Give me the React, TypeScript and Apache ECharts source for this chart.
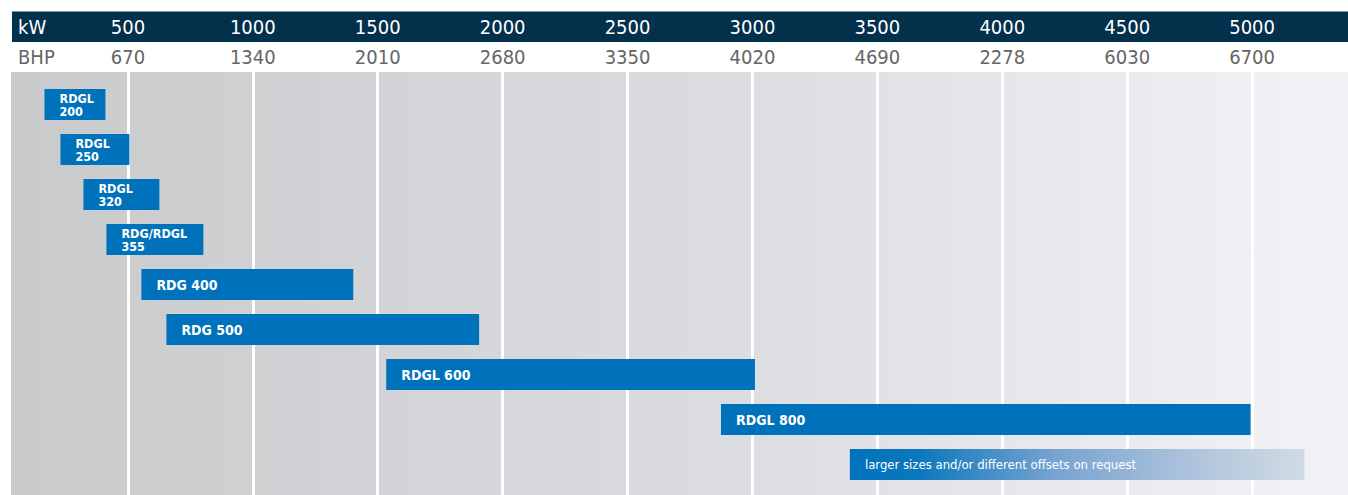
import React, { useEffect, useRef } from "react";
import * as echarts from "echarts";

const kwTicks = [500, 1000, 1500, 2000, 2500, 3000, 3500, 4000, 4500, 5000];
const bhpTicks = ["670", "1340", "2010", "2680", "3350", "4020", "4690", "2278", "6030", "6700"];

const barNames = [
  "RDGL\n200",
  "RDGL\n250",
  "RDGL\n320",
  "RDG/RDGL\n355",
  "RDG 400",
  "RDG 500",
  "RDGL 600",
  "RDGL 800",
  "larger sizes and/or different offsets on request",
];
const barStart = [166, 230, 322, 414, 554, 654, 1534, 2874, 3390];
const barEnd = [410, 506, 626, 802, 1402, 1906, 3010, 4994, 5210];

const FONT = "'DejaVu Sans Condensed', 'DejaVu Sans', sans-serif";
const BLUE = "#0071bb";
const NAVY = "#03304b";

export default function App() {
  const ref = useRef<HTMLDivElement>(null);
  useEffect(() => {
    document.body.style.margin = "0";
    const chart = echarts.init(ref.current!, null, { renderer: "svg" });
    const data = barNames.map((n, i) => [barStart[i], barEnd[i], i, n]);
    const last = barNames.length - 1;
    chart.setOption({
      animation: false,
      grid: { left: 2.5, top: 72, width: 1375, bottom: 0 },
      xAxis: [
        {
          type: "value",
          position: "top",
          min: 0,
          max: 5500,
          interval: 500,
          axisLine: { show: false },
          axisTick: { show: false },
          splitLine: { show: true, lineStyle: { color: "#ffffff", width: 3 } },
          axisLabel: {
            margin: 45,
            verticalAlign: "middle",
            color: "#ffffff",
            fontSize: 20,
            fontFamily: FONT,
            formatter: (v: number) => (kwTicks.indexOf(v) >= 0 ? String(v) : ""),
          },
        },
        {
          type: "value",
          position: "top",
          min: 0,
          max: 5500,
          interval: 500,
          axisLine: { show: false },
          axisTick: { show: false },
          splitLine: { show: false },
          axisLabel: {
            margin: 15,
            verticalAlign: "middle",
            color: "#666666",
            fontSize: 20,
            fontFamily: FONT,
            formatter: (v: number) => {
              const i = kwTicks.indexOf(v);
              return i >= 0 ? bhpTicks[i] : "";
            },
          },
        },
      ],
      yAxis: {
        type: "value",
        inverse: true,
        min: -32.5 / 45,
        max: -32.5 / 45 + 423 / 45,
        show: false,
      },
      graphic: {
        elements: [
          {
            type: "rect",
            z: -10,
            shape: { x: 11, y: 72, width: 1337, height: 423 },
            style: {
              fill: new echarts.graphic.LinearGradient(0, 0, 1, 0, [
                { offset: 0, color: "#c9cacc" },
                { offset: 0.5, color: "#d9dbde" },
                { offset: 1, color: "#f1f3f6" },
              ]),
            },
          },
          {
            type: "rect",
            z: -10,
            shape: { x: 12, y: 11, width: 1336, height: 31 },
            style: { fill: NAVY },
          },
          {
            type: "rect",
            z: -9,
            shape: { x: 12, y: 11, width: 1336, height: 1 },
            style: { fill: "#7d93a3" },
          },
          {
            type: "text",
            x: 18,
            y: 27,
            style: { text: "kW", fill: "#ffffff", font: `20px ${FONT}`, verticalAlign: "middle" },
          },
          {
            type: "text",
            x: 18,
            y: 57,
            style: { text: "BHP", fill: "#666666", font: `20px ${FONT}`, verticalAlign: "middle" },
          },
        ],
      },
      series: [
        {
          type: "custom",
          xAxisIndex: 0,
          data,
          renderItem: (params: any, api: any) => {
            const idx = api.value(2);
            const s = api.coord([api.value(0), idx]);
            const e = api.coord([api.value(1), idx]);
            const h = 31;
            const isLast = idx === last;
            const name = barNames[idx];
            const twoLine = name.indexOf("\n") >= 0;
            const fill = isLast
              ? new echarts.graphic.LinearGradient(0, 0, 1, 0, [
                  { offset: 0, color: "#0072bb" },
                  { offset: 0.15, color: "#0c77bd" },
                  { offset: 0.45, color: "#77a3d1" },
                  { offset: 0.75, color: "#adc3dc" },
                  { offset: 1, color: "#d1dbe4" },
                ])
              : BLUE;
            return {
              type: "group",
              children: [
                {
                  type: "rect",
                  shape: { x: s[0], y: s[1] - h / 2, width: e[0] - s[0], height: h },
                  style: { fill },
                },
                {
                  type: "text",
                  x: s[0] + 15,
                  y: s[1] + (twoLine ? 0.5 : 0),
                  style: {
                    text: name,
                    fill: "#ffffff",
                    font: isLast
                      ? `13px ${FONT}`
                      : twoLine
                      ? `bold 12.5px ${FONT}`
                      : `bold 14px ${FONT}`,
                    lineHeight: 13.5,
                    verticalAlign: "middle",
                  },
                },
              ],
            };
          },
        },
      ],
    });
    return () => chart.dispose();
  }, []);
  return (
    <div style={{ width: 1348, height: 495, overflow: "hidden" }}>
      <div ref={ref} style={{ width: 1380, height: 495 }} />
    </div>
  );
}
